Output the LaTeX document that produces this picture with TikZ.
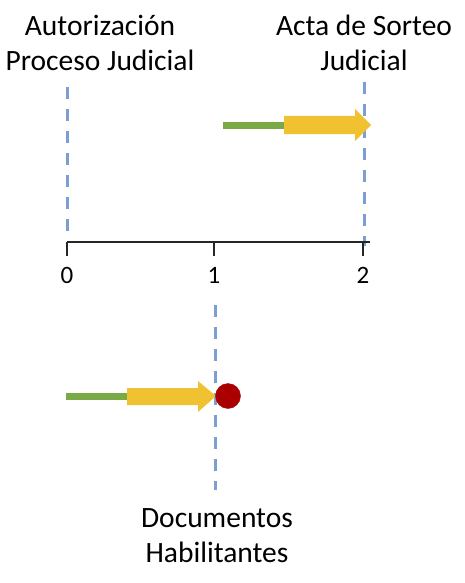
\documentclass[tikz,border=0pt]{standalone}
\usepackage{fontspec}
\setmainfont{Carlito}
\usetikzlibrary{positioning}
\definecolor{guidec}{RGB}{124,158,210}
\definecolor{greenc}{RGB}{122,170,70}
\definecolor{goldc}{RGB}{240,194,50}
\definecolor{redc}{RGB}{170,0,0}
\tikzset{
  guide/.style={guidec, line width=3pt, dash pattern=on 12pt off 10pt},
  stem/.style={greenc, line width=7pt},
  label/.style={align=center, inner sep=0pt, font=\fontsize{29.5}{35}\selectfont},
  num/.style={inner sep=0pt, anchor=base, font=\fontsize{25}{30}\selectfont}
}

\begin{document}
\begin{tikzpicture}[x=1pt,y=-1pt]
        \useasboundingbox (0,0) rectangle (465,583);

        % labels
        \node[label] (autor) at (100,42.5) {Autorización\\Proceso Judicial};
        \node[label] (acta) at (364,43) {Acta de Sorteo\\Judicial};
        \node[label] (docs) at (217,535.5) {Documentos\\Habilitantes};

        % guide lines
        \coordinate (g0a) at (67,87);
        \coordinate (g0b) at (67,240);
        \coordinate (g2a) at (364,82);
        \coordinate (g2b) at (364,246);
        \coordinate (g1a) at (215,305);
        \coordinate (g1b) at (215,490);
        \draw[guide] (g0a) -- (g0b);
        \draw[guide] (g2a) -- (g2b);
        \draw[guide] (g1a) -- (g1b);

        % axis
        \coordinate (ax0) at (67,242);
        \coordinate (ax1) at (370,242);
        \draw[black!85, line width=1.2pt] (ax0) -- (ax1);
        \foreach \i/\x in {0/67,1/214,2/363}{
          \draw[black!85, line width=1.2pt] (\x,242) -- (\x,256);
          \node[num] (lbl\i) at (\x,283) {\i};
        }

        % upper arrow
        \coordinate (s1) at (223,125.5);
        \coordinate (e1) at (286,125.5);
        \draw[stem] (s1) -- (e1);
        \fill[goldc] (284,116) -- (355,116) -- (355,109) -- (371,125) -- (355,141) -- (355,134) -- (284,134) -- cycle;

        % lower arrow
        \coordinate (s2) at (66,396.5);
        \coordinate (e2) at (129,396.5);
        \draw[stem] (s2) -- (e2);
        \fill[goldc] (127,388) -- (198,388) -- (198,381) -- (216,396) -- (198,412) -- (198,405) -- (127,405) -- cycle;
        \filldraw[redc] (228,396) circle (12.5);

        \end{tikzpicture}
\end{document}
